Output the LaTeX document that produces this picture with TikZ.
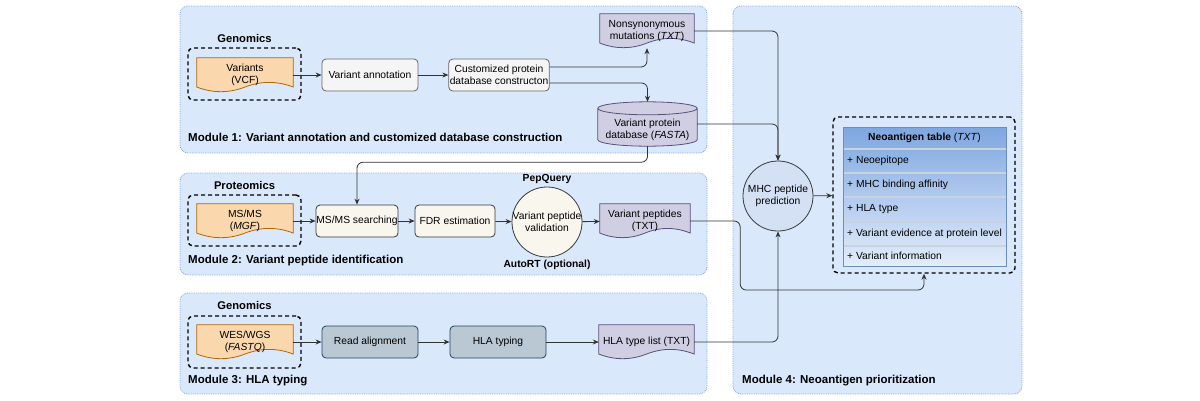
\documentclass[tikz,border=0pt]{standalone}
\usepackage{fontspec}
\setmainfont{Liberation Sans}
\usetikzlibrary{
		calc,
		positioning,
		arrows.meta,
		backgrounds
	}
\tikzset{
		>={Stealth[length=6pt,width=5pt]}
	}
\definecolor{modfill}{HTML}{DAE8FC}
\definecolor{moddraw}{HTML}{7EA6E0}
\definecolor{orfill}{HTML}{FAD7AC}
\definecolor{ordraw}{HTML}{B46504}
\definecolor{pufill}{HTML}{D0CEE2}
\definecolor{pudraw}{HTML}{56517E}
\definecolor{grfill}{HTML}{F5F5F5}
\definecolor{grdraw}{HTML}{666666}
\definecolor{crfill}{HTML}{F9F7ED}
\definecolor{crdraw}{HTML}{36393D}
\definecolor{slfill}{HTML}{BAC8D3}
\definecolor{sldraw}{HTML}{23445D}
\definecolor{mhcfill}{HTML}{D4E1F5}
\definecolor{tabtop}{HTML}{7EA6E0}
\definecolor{tabbot}{HTML}{E3EDFB}
\definecolor{tabdraw}{HTML}{6C8EBF}
\definecolor{tabsep}{HTML}{C9D3E0}
\definecolor{wire}{HTML}{333333}
% document outline with a wavy bottom, drawn round a node
\newcommand{\docshape}[2]{%
	\path[#2] let \p1=(#1.north west), \p2=(#1.south east),
		\n1={\x2-\x1}, \n2={0.3*(\y1-\y2)} in
		(\x1,\y1) -- (\x2,\y1) -- (\x2,\y2+0.5*\n2)
		.. controls (\x2-\n1/6,\y2+1.1*\n2) and (\x1+\n1/2+\n1/6,\y2+1.1*\n2) .. (\x1+\n1/2,\y2+0.5*\n2)
		.. controls (\x1+\n1/2-\n1/6,\y2-0.1*\n2) and (\x1+\n1/6,\y2-0.1*\n2) .. (\x1,\y2+0.5*\n2)
		-- cycle;}
% database cylinder, drawn round a node
\newcommand{\dbshape}[2]{%
	\path[#2] let \p1=(#1.north west), \p2=(#1.south east),
		\n1={(\x2-\x1)/2}, \n2={6.5} in
		(\x1,\y1-\n2) -- (\x1,\y2+\n2)
		arc[start angle=180, end angle=360, x radius=\n1*1pt, y radius=\n2*1pt]
		-- (\x2,\y1-\n2)
		arc[start angle=0, end angle=180, x radius=\n1*1pt, y radius=\n2*1pt] -- cycle
		(\x1,\y1-\n2)
		arc[start angle=180, end angle=360, x radius=\n1*1pt, y radius=\n2*1pt];}

\begin{document}
\begin{tikzpicture}[x=1pt, y=-1pt,
				every node/.style={font=\fontsize{10.3}{12.4}\selectfont},
				module/.style={fill=modfill, draw=moddraw, densely dotted, line width=0.8pt, rounded corners=8pt},
				group/.style={draw, dash pattern=on 4pt off 3pt, line width=1.4pt, rounded corners=5pt, inner sep=0pt},
				heading/.style={font=\fontsize{11.2}{13}\selectfont\bfseries, inner sep=0pt},
				tag/.style={font=\fontsize{10.3}{12.4}\selectfont\bfseries, inner sep=0pt},
				modlabel/.style={font=\fontsize{11.5}{13.5}\selectfont\bfseries, anchor=west, inner sep=0pt},
				doc/.style={align=center, inner sep=0pt, minimum width=96pt, minimum height=34pt},
				orangedoc/.style={fill=orfill, draw=ordraw, line width=0.8pt},
				purpledoc/.style={fill=pufill, draw=pudraw, line width=0.8pt},
				proc/.style={draw, rounded corners=4pt, line width=0.8pt, align=center, minimum width=96pt, minimum height=32pt, inner sep=1pt},
				grayproc/.style={fill=grfill, draw=grdraw},
				creamproc/.style={fill=crfill, draw=crdraw},
				slateproc/.style={fill=slfill, draw=sldraw},
				circ/.style={circle, draw=crdraw, line width=0.8pt, minimum size=70pt, inner sep=0pt, align=center},
				rowtext/.style={anchor=west, inner sep=0pt},
				flow/.style={->, draw=wire, line width=0.8pt, rounded corners=6pt}]
	\useasboundingbox (0,0) rectangle (1200,400);

	% Module 1
	\node[doc] (vcf) at (245,75) {Variants\\(VCF)};
	\node[group, minimum width=113pt, minimum height=52pt] (grp1) at (244.5,74) {};
	\node[heading, above=4pt of grp1] (gen1) {Genomics};
	\node[proc, grayproc] (ann) at (370,75) {Variant annotation};
	\node[proc, grayproc, minimum width=100pt] (cpd) at (499,75) {Customized protein\\database constructon};
	\node[doc, minimum width=94pt] (nons) at (647,31) {Nonsynonymous\\mutations (\textit{TXT})};
	\node[doc, minimum width=99pt, minimum height=44pt,
		label={[align=center, yshift=-6pt]center:{Variant protein\\database (\textit{FASTA})}}] (vpdb) at (647.5,124) {};
	\node[modlabel] (m1) at (188,137) {Module 1: Variant annotation and customized database construction};

	% Module 2
	\node[doc] (mgf) at (245,221) {MS/MS\\(\textit{MGF})};
	\node[group, minimum width=113pt, minimum height=51pt] (grp2) at (244.5,220.5) {};
	\node[heading, above=4pt of grp2] (prot) {Proteomics};
	\node[proc, creamproc, minimum width=82pt] (mss) at (357,221) {\makebox[80pt]{MS/MS searching}};
	\node[proc, creamproc, minimum width=80pt] (fdr) at (455,221) {FDR estimation};
	\node[circ, fill=crfill] (vpv) at (547,222) {\makebox[60pt]{Variant peptide}\\validation};
	\node[tag, above=3pt of vpv] (pq) {PepQuery};
	\node[tag, below=2pt of vpv] (art) {AutoRT (optional)};
	\node[doc, minimum width=90pt] (vpep) at (645,221) {Variant peptides\\(TXT)};
	\node[modlabel] (m2) at (188,261) {Module 2: Variant peptide identification};

	% Module 3
	\node[doc] (fq) at (245,342) {WES/WGS\\(\textit{FASTQ})};
	\node[group, minimum width=113pt, minimum height=52pt] (grp3) at (244.5,342) {};
	\node[heading, above=5pt of grp3] (gen3) {Genomics};
	\node[proc, slateproc] (aln) at (370,342) {Read alignment};
	\node[proc, slateproc] (hlat) at (498,342) {HLA typing};
	\node[doc, minimum width=95pt] (hlal) at (646.5,342) {HLA type list (TXT)};
	\node[modlabel] (m3) at (188,381) {Module 3: HLA typing};

	% Module 4
	\node[circ, fill=mhcfill] (mhc) at (778,196) {MHC peptide\\prediction};
	\node[group, minimum width=182pt, minimum height=156pt] (nbox) at (924,195) {};
	\node (thead) at (924.5,138) {\textbf{Neoantigen table} (\textit{TXT})};
	\node[rowtext] (row1) at (847,161) {+ Neoepitope};
	\node[rowtext] (row2) at (847,185) {+ MHC binding affinity};
	\node[rowtext] (row3) at (847,209.5) {+ HLA type};
	\node[rowtext] (row4) at (847,234) {+ Variant evidence at protein level};
	\node[rowtext] (row5) at (847,256) {+ Variant information};
	\node[modlabel] (m4) at (742,381) {Module 4: Neoantigen prioritization};

	% connectors
	\draw[flow] (vcf.east) -- (ann.west);
	\draw[flow] (ann) -- (cpd);
	\draw[flow] ([yshift=8pt]cpd.east) -| (nons.south);
	\draw[flow] ([yshift=-8pt]cpd.east) -| (vpdb.north);
	\draw[flow] (nons.east) -| (mhc.north);
	\draw[flow] (vpdb.east) -| (mhc.north);
	\draw[flow] (vpdb.south) -- ++(0,16) -| (mss.north);
	\draw[flow] (mgf.east) -- (mss.west);
	\draw[flow] (mss) -- (fdr);
	\draw[flow] (fdr) -- (vpv);
	\draw[flow] (vpv) -- (vpep);
	\draw[flow] (vpep.east) -| ++(50,69) -| (nbox.south);
	\draw[flow] (fq.east) -- (aln.west);
	\draw[flow] (aln) -- (hlat);
	\draw[flow] (hlat) -- (hlal);
	\draw[flow] (hlal.east) -| (mhc.south);
	\draw[flow] (mhc) -- (nbox);

	\begin{scope}[on background layer]
		\draw[module] (180,6) rectangle (707,153);
		\draw[module] (180,173) rectangle (707,275);
		\draw[module] (180,293) rectangle (707,394);
		\draw[module] (733,6) rectangle (1022,394);
		\docshape{vcf}{orangedoc}
		\docshape{mgf}{orangedoc}
		\docshape{fq}{orangedoc}
		\docshape{nons}{purpledoc}
		\docshape{vpep}{purpledoc}
		\docshape{hlal}{purpledoc}
		\dbshape{vpdb}{purpledoc}
		\shade[top color=tabtop, bottom color=tabbot] (843,127) rectangle (1006,266);
		\draw[tabsep, line width=1.2pt] (843,149) -- (1006,149) (843,173) -- (1006,173)
			(843,197) -- (1006,197) (843,222) -- (1006,222) (843,246) -- (1006,246);
		\draw[tabdraw, line width=0.8pt] (843,127) rectangle (1006,266);
	\end{scope}
\end{tikzpicture}
\end{document}
